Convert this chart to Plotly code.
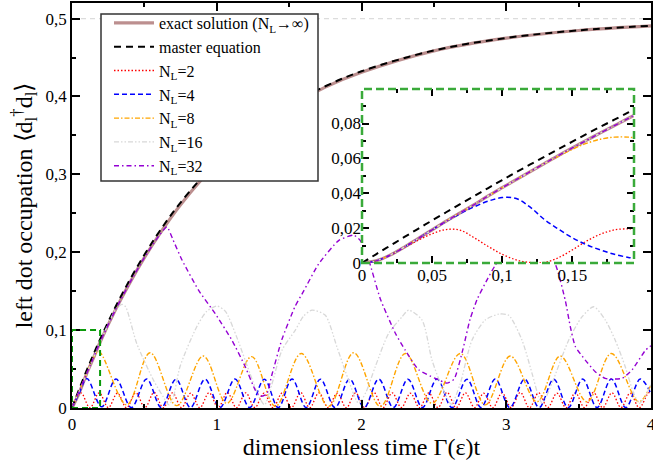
import plotly.graph_objects as go

# ---------------- data ----------------
# main panel: exact solution and master equation
T_MAIN = [0, 0.05, 0.1, 0.15, 0.2, 0.3, 0.4, 0.5, 0.6, 0.75, 1.0, 1.25, 1.5, 1.75, 2.0, 2.5, 3.0, 3.5, 4.0]
EXACT = [0, 0.0195, 0.0435, 0.065, 0.087, 0.126, 0.161, 0.193, 0.222, 0.261, 0.314, 0.355, 0.387,
         0.412, 0.431, 0.4585, 0.4748, 0.4847, 0.4906]
MASTER = [0, 0.0244, 0.0476, 0.0696, 0.0906, 0.1296, 0.1648, 0.1967, 0.2256, 0.2638, 0.3161, 0.3567,
          0.3884, 0.4131, 0.4323, 0.4590, 0.4751, 0.4849, 0.4908]

# N_L = 2
T_N2 = [0, 0.0615, 0.124, 0.188, 0.251, 0.314, 0.377, 0.441, 0.504, 0.567, 0.630, 0.694, 0.757,
        0.820, 0.883, 0.947, 1.010, 1.073, 1.136, 1.200, 1.263, 1.326, 1.389, 1.453, 1.516, 1.579,
        1.642, 1.706, 1.769, 1.832, 1.895, 1.959, 2.022, 2.085, 2.148, 2.212, 2.275, 2.338, 2.401,
        2.465, 2.528, 2.591, 2.654, 2.718, 2.781, 2.844, 2.907, 2.971, 3.034, 3.097, 3.160, 3.224,
        3.287, 3.350, 3.413, 3.477, 3.540, 3.603, 3.666, 3.730, 3.793, 3.856, 3.919, 3.983, 4.0]
N2 = [0,
      0.0195, 0.0003, 0.0195, 0.0005, 0.0190, 0.0003, 0.0195, 0.0005, 0.0200, 0.0003, 0.0195, 0.0005,
      0.0190, 0.0003, 0.0195, 0.0005, 0.0200, 0.0003, 0.0195, 0.0005, 0.0190, 0.0003, 0.0195, 0.0005,
      0.0200, 0.0003, 0.0195, 0.0005, 0.0190, 0.0003, 0.0195, 0.0005, 0.0200, 0.0003, 0.0195, 0.0005,
      0.0190, 0.0003, 0.0195, 0.0005, 0.0200, 0.0003, 0.0195, 0.0005, 0.0190, 0.0003, 0.0195, 0.0005,
      0.0200, 0.0003, 0.0195, 0.0005, 0.0190, 0.0003, 0.0195, 0.0005, 0.0200, 0.0003, 0.0195, 0.0005,
      0.0190, 0.0003, 0.0195,
      0.0192]

# N_L = 4
T_N4 = [0, 0.05, 0.103, 0.205,
        0.304, 0.41, 0.516, 0.617, 0.718, 0.818, 0.919, 1.022, 1.126, 1.227, 1.329, 1.425,
        1.52, 1.618, 1.716, 1.817, 1.918, 2.018, 2.119, 2.22, 2.321, 2.421, 2.522, 2.625,
        2.729, 2.826, 2.924, 3.025, 3.127, 3.227, 3.328, 3.428, 3.528, 3.627, 3.726, 3.826,
        3.926, 4.0]
N4 = [0, 0.019, 0.0378, 0.0015,
      0.0372, 0.0005, 0.0372, 0.0005, 0.0370, 0.0005, 0.0370, 0.0005, 0.0372, 0.0005, 0.0370, 0.0005,
      0.0372, 0.0005, 0.0370, 0.0005, 0.0372, 0.0005, 0.0372, 0.0005, 0.0370, 0.0005, 0.0372, 0.0005,
      0.0370, 0.0005, 0.0372, 0.0005, 0.0372, 0.0005, 0.0370, 0.0005, 0.0372, 0.0005, 0.0372, 0.0005,
      0.0372, 0.018]

# N_L = 8
T_N8 = [0, 0.1, 0.14, 0.185, 0.378, 0.539, 0.723, 0.907, 1.069, 1.241, 1.405, 1.584, 1.773, 1.946,
        2.13, 2.303, 2.487, 2.683, 2.855, 3.028, 3.212, 3.373, 3.558, 3.726, 3.915, 4.0]
N8 = [0, 0.0435, 0.0615, 0.0725, 0.004, 0.071, 0.003, 0.0667, 0.006, 0.066, 0.002, 0.070, 0.002, 0.071,
      0.002, 0.070, 0.006, 0.070, 0.004, 0.0667, 0.008, 0.0667, 0.008, 0.070, 0.008, 0.03]

# N_L = 16
T_N16 = [0, 0.1, 0.2, 0.3, 0.345, 0.37, 0.447, 0.562, 0.63, 0.67, 0.70, 0.746, 0.861, 0.93, 1.0, 1.06,
         1.138, 1.23, 1.29, 1.33, 1.38, 1.45, 1.543, 1.60, 1.658, 1.75, 1.83, 1.91, 1.98, 2.03, 2.095,
         2.188, 2.28, 2.326, 2.418, 2.487, 2.556, 2.62, 2.68, 2.763, 2.855, 2.948, 3.017, 3.109, 3.178,
         3.224, 3.25, 3.316, 3.431, 3.523, 3.604, 3.684, 3.753, 3.822, 3.88, 3.92, 3.96, 4.0]
N16 = [0, 0.0435, 0.087, 0.126, 0.133, 0.130, 0.083, 0.036, 0.0145, 0.004, 0.014, 0.053, 0.104, 0.124,
       0.131, 0.124, 0.091, 0.044, 0.015, 0.004, 0.03, 0.074, 0.10, 0.118, 0.1256, 0.119, 0.0786, 0.036,
       0.006, 0.02, 0.053, 0.096, 0.117, 0.1256, 0.113, 0.0615, 0.027, 0.005, 0.03, 0.087, 0.113, 0.1205,
       0.119, 0.087, 0.0445, 0.0145, 0.006, 0.032, 0.087, 0.117, 0.13, 0.113, 0.087, 0.053, 0.019, 0.006,
       0.015, 0.03]

# N_L = 32
T_N32 = [0, 0.1, 0.2, 0.3, 0.4, 0.5, 0.6, 0.656, 0.70, 0.760, 0.875, 0.990, 1.105, 1.197, 1.266, 1.30,
         1.345, 1.38, 1.45, 1.54, 1.60, 1.704, 1.842, 1.946, 1.992, 2.05, 2.13, 2.234, 2.303, 2.395, 2.51,
         2.59, 2.64, 2.70, 2.75, 2.80, 2.86, 2.92, 3.0, 3.12, 3.24, 3.337, 3.408, 3.443, 3.477, 3.546,
         3.615, 3.684, 3.80, 3.869, 3.961, 4.0]
N32 = [0, 0.0435, 0.087, 0.126, 0.161, 0.193, 0.221, 0.2325, 0.215, 0.19, 0.151, 0.121, 0.087, 0.053,
       0.023, 0.015, 0.018, 0.042, 0.088, 0.130, 0.150, 0.185, 0.215, 0.222, 0.215, 0.19, 0.140, 0.096,
       0.074, 0.049, 0.038, 0.032, 0.037, 0.075, 0.114, 0.140, 0.162, 0.182, 0.203, 0.215, 0.205, 0.1855,
       0.138, 0.104, 0.079, 0.0615, 0.0466, 0.038, 0.038, 0.049, 0.074, 0.08]

# inset panel (short-time detail)
T_IN = [0, 0.01, 0.02, 0.03, 0.04, 0.05, 0.06, 0.07, 0.08, 0.09, 0.10, 0.11, 0.12, 0.13, 0.14, 0.15,
        0.16, 0.17, 0.18, 0.19, 0.194]
EXACT_IN = [0, 0.0012, 0.0045, 0.009, 0.014, 0.019, 0.024, 0.0288, 0.0335, 0.0385, 0.0432, 0.0478,
            0.0524, 0.057, 0.0616, 0.0660, 0.0703, 0.0746, 0.0788, 0.0830, 0.0847]
MASTER_IN = [0, 0.005, 0.0099, 0.0148, 0.0196, 0.0244, 0.0291, 0.0338, 0.0384, 0.0430, 0.0476, 0.0521,
             0.0565, 0.0609, 0.0653, 0.0696, 0.0739, 0.0781, 0.0822, 0.0864, 0.0880]
N2_IN = [0, 0.0012, 0.0045, 0.0088, 0.0130, 0.0168, 0.0192, 0.0188, 0.0145, 0.0095, 0.0050, 0.0018,
         0.0003, 0.0003, 0.0030, 0.0075, 0.0125, 0.0165, 0.0190, 0.0196, 0.0195]
N4_IN = [0, 0.0012, 0.0045, 0.009, 0.014, 0.019, 0.0238, 0.0283, 0.0322, 0.0355, 0.0375, 0.0370,
         0.0320, 0.0250, 0.0195, 0.0145, 0.0105, 0.0075, 0.0050, 0.0032, 0.0027]
N8_IN = [0, 0.0012, 0.0045, 0.009, 0.014, 0.019, 0.024, 0.0288, 0.0335, 0.0385, 0.0432, 0.0478,
         0.0524, 0.057, 0.0612, 0.0652, 0.0686, 0.0710, 0.0722, 0.0722, 0.0718]
N16_IN = EXACT_IN   # coincides with the exact solution at these times
N32_IN = EXACT_IN   # coincides with the exact solution at these times

ASYMPTOTE = 0.5
ZOOM_X = [0, 0.194]
ZOOM_Y = [0, 0.1]

NAMES = ["exact solution (N<sub>L</sub>→∞)", "master equation", "N<sub>L</sub>=2", "N<sub>L</sub>=4",
         "N<sub>L</sub>=8", "N<sub>L</sub>=16", "N<sub>L</sub>=32"]

for a, b in [(T_N2, N2), (T_N4, N4), (T_N8, N8), (T_N16, N16), (T_N32, N32)]:
    assert len(a) == len(b), (len(a), len(b))

# ---------------- styles ----------------
STYLES = [
    dict(color="#bc8f8f", width=3.2, dash="solid"),
    dict(color="black", width=2.0, dash="7px,5px"),
    dict(color="#ff0000", width=1.3, dash="1.5px,2px"),
    dict(color="#0000ff", width=1.5, dash="5px,3px"),
    dict(color="#ffa500", width=1.4, dash="5px,2px,1.5px,2px"),
    dict(color="#d8d8d8", width=1.3, dash="5px,2px,1.5px,2px,1.5px,2px"),
    dict(color="#9400d3", width=1.4, dash="5px,3px,1.5px,3px"),
]

main_series = [(T_MAIN, EXACT), (T_MAIN, MASTER), (T_N2, N2), (T_N4, N4), (T_N8, N8),
               (T_N16, N16), (T_N32, N32)]
inset_series = [EXACT_IN, MASTER_IN, N2_IN, N4_IN, N8_IN, N16_IN, N32_IN]
SMOOTH = [1.0, 1.0, 1.0, 1.0, 1.0, 0.7, 0.5]

fig = go.Figure()
for i, ((tx, ty), name) in enumerate(zip(main_series, NAMES)):
    fig.add_trace(go.Scatter(x=tx, y=ty, mode="lines", name=name,
                             line=dict(**STYLES[i], shape="spline", smoothing=SMOOTH[i]),
                             xaxis="x", yaxis="y"))
for i, ty in enumerate(inset_series):
    fig.add_trace(go.Scatter(x=T_IN, y=ty, mode="lines", showlegend=False,
                             line=dict(**STYLES[i], shape="spline", smoothing=1.0),
                             xaxis="x2", yaxis="y2"))

FONT = "'Liberation Serif', 'Times New Roman', Times, serif"
ML, MR, MT, MB = 72, 2, 3, 52
W, H = 653, 460
PW, PH = W - ML - MR, H - MT - MB

def fx(px):
    return (px - ML) / PW

def fy(py):
    return (H - MB - py) / PH

axis_common = dict(ticks="inside", tickcolor="black", tickwidth=1.5, showgrid=False, zeroline=False,
                   automargin=False, ticklabeloverflow="allow",
                   tickfont=dict(size=17, family=FONT, color="black"))

fig.update_layout(
    width=W, height=H,
    margin=dict(l=ML, r=MR, t=MT, b=MB),
    paper_bgcolor="white", plot_bgcolor="white",
    separators=",.",
    font=dict(family=FONT, size=17, color="black"),
    xaxis=dict(range=[0, 4], tick0=0, dtick=1, ticklen=8, showline=True, linewidth=1.5,
               linecolor="black", mirror="allticks",
               minor=dict(dtick=0.5, ticks="inside", ticklen=4, tickwidth=1.5, tickcolor="black"),
               title=dict(text="dimensionless time Γ(ε)t", font=dict(size=24, family=FONT), standoff=0),
               **axis_common),
    yaxis=dict(range=[0, 0.52], tick0=0, dtick=0.1, ticklen=8, showline=True, linewidth=1.5,
               linecolor="black", mirror="allticks",
               minor=dict(dtick=0.05, ticks="inside", ticklen=4, tickwidth=1.5, tickcolor="black"),
               title=dict(text="left dot occupation ⟨d<sub>l</sub><sup>†</sup>d<sub>l</sub>⟩",
                          font=dict(size=24, family=FONT), standoff=6),
               **axis_common),
    xaxis2=dict(domain=[fx(362), fx(634)], anchor="y2", range=ZOOM_X, tick0=0, dtick=0.05,
                ticklen=7, showline=False, mirror="allticks",
                minor=dict(dtick=0.025, ticks="inside", ticklen=4, tickwidth=1.5, tickcolor="black"),
                **axis_common),
    yaxis2=dict(domain=[fy(263), fy(89)], anchor="x2", range=[ZOOM_Y[0], ZOOM_Y[1] * 0.998],
                tick0=0, dtick=0.02, ticklen=7, showline=False, mirror="allticks",
                minor=dict(dtick=0.01, ticks="inside", ticklen=4, tickwidth=1.5, tickcolor="black"),
                **axis_common),
    legend=dict(x=fx(109), y=fy(6), xanchor="left", yanchor="top", bgcolor="rgba(0,0,0,0)",
                borderwidth=0, font=dict(size=16, family=FONT),
                itemwidth=40, tracegroupgap=0),
    shapes=[
        dict(type="line", xref="x", yref="y", x0=0, x1=4, y0=ASYMPTOTE, y1=ASYMPTOTE,
             line=dict(color="#dcdcdc", width=1.2, dash="5px,4px"), layer="below"),
        dict(type="rect", xref="x", yref="y", x0=ZOOM_X[0], x1=ZOOM_X[1], y0=ZOOM_Y[0], y1=ZOOM_Y[1],
             line=dict(color="#0a9a0a", width=2, dash="6px,4px"), layer="above"),
        dict(type="rect", xref="x2 domain", yref="y2 domain", x0=0, x1=1, y0=0, y1=1,
             line=dict(color="#3aaa3a", width=2.5, dash="8px,4px"), layer="above"),
        # legend frame
        dict(type="rect", xref="paper", yref="paper", x0=fx(101), x1=fx(318), y0=fy(181), y1=fy(14),
             fillcolor="white", line=dict(color="#333333", width=1.5), layer="above"),
    ],
)

fig.write_html("out.html", config={"displayModeBar": False},
               post_script="document.body.style.margin='0';")
